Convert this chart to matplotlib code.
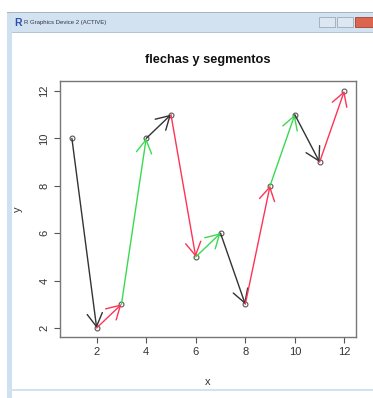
import matplotlib
matplotlib.use("Agg")
import matplotlib.pyplot as plt
from matplotlib.patches import Rectangle
import numpy as np

plt.rcParams['font.family'] = ['Liberation Sans', 'DejaVu Sans']

# data
x = [1, 2, 3, 4, 5, 6, 7, 8, 9, 10, 11, 12]
y = [10, 2, 3, 10, 11, 5, 6, 3, 8, 11, 9, 12]
seg_colors = ['#333333', '#ff3355', '#3ada50']  # R col=1:3 cycle
xticks = [2, 4, 6, 8, 10, 12]
yticks = [2, 4, 6, 8, 10, 12]
title = "flechas y segmentos"
win_title = "R Graphics Device 2 (ACTIVE)"

W, H = 373, 398
fig = plt.figure(figsize=(W / 100, H / 100), dpi=100)
fig.patch.set_facecolor('white')

def px(x0, y0, w, h, **kw):
    fig.add_artist(Rectangle((x0 / W, 1 - (y0 + h) / H), w / W, h / H,
                             transform=fig.transFigure, **kw))

# window chrome
px(7, 12, W - 7, 1, facecolor='#aab4c0', edgecolor='none')
px(7, 13, W - 7, 19, facecolor='#d3e2f1', edgecolor='none')
px(7, 13, 5, H - 13, facecolor='#cfe0f1', edgecolor='none')
px(12, 32, W - 12, 1, facecolor='#b6c4d2', edgecolor='none')
px(7, 389, W - 7, 2, facecolor='#d3e2f1', edgecolor='none')
# buttons
px(319, 17, 16, 10, facecolor='#dde7f1', edgecolor='#9aabbd', lw=0.6)
px(337, 17, 16, 10, facecolor='#dde7f1', edgecolor='#9aabbd', lw=0.6)
px(355, 17, 20, 10, facecolor='#db6650', edgecolor='#a84030', lw=0.6)
fig.text(14 / W, 1 - 22.5 / H, "R", color='#2a4fb0', fontsize=7.5,
         fontweight='bold', va='center', ha='left')
fig.text(24 / W, 1 - 22.5 / H, win_title, color='#334', fontsize=4.3,
         va='center', ha='left')

# plot axes
left, right, top, bottom = 60, 356, 81, 337
ax = fig.add_axes([left / W, 1 - bottom / H, (right - left) / W, (bottom - top) / H])
ax.set_xlim(0.52, 12.47)
ax.set_ylim(1.62, 12.42)

ax.plot(x, y, 'o', mfc='none', mec='#555555', ms=3.5, mew=0.8, zorder=1)

for i in range(len(x) - 1):
    c = seg_colors[i % 3]
    ax.annotate('', xy=(x[i + 1], y[i + 1]), xytext=(x[i], y[i]),
                arrowprops=dict(arrowstyle='->,head_length=0.95,head_width=0.55',
                                color=c, lw=1.0, shrinkA=0, shrinkB=0))

for s in ax.spines.values():
    s.set_color('#777777')
    s.set_linewidth(1.0)

ax.set_xticks(xticks)
ax.set_yticks(yticks)
ax.tick_params(colors='#555555', labelcolor='#333333', labelsize=8, length=4, width=0.8)
for lab in ax.get_yticklabels():
    lab.set_rotation(90)
    lab.set_va('center')

ax.set_xlabel('x', fontsize=8, color='#333333', labelpad=14)
ax.set_ylabel('y', fontsize=8, color='#333333', labelpad=12)
ax.set_title(title, fontsize=9.2, fontweight='bold', color='#111111', pad=13)

fig.savefig('out.png', dpi=100)
